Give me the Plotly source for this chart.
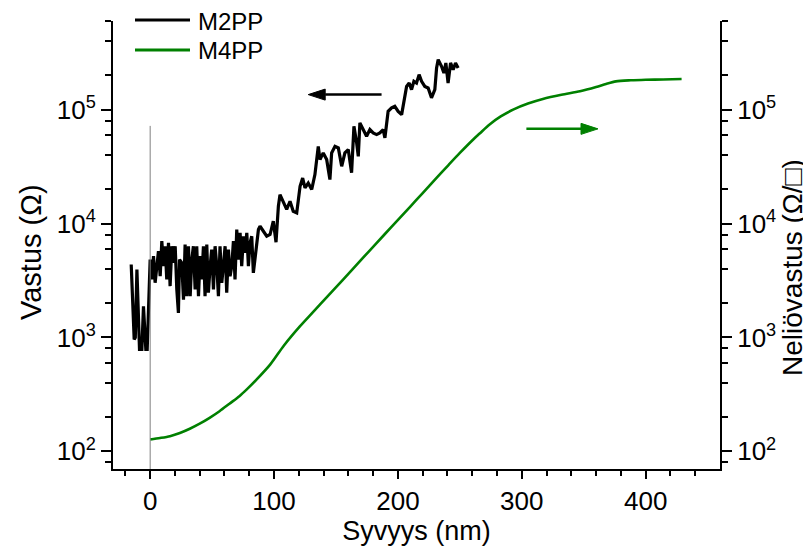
import math
import plotly.graph_objects as go

# ---------------- data ----------------
m2pp_depth = [-15.3, -14.3, -12.9, -12.0, -10.7, -8.6, -6.7, -5.4, -3.5, -2.4, -1.4, -0.6,
              0.0, 1.3, 2.7, 4.0, 5.4, 6.7, 8.1, 9.4, 10.8, 12.1, 13.4, 14.8, 16.1, 17.5,
              18.8, 20.2, 21.5, 22.8, 23.7, 25.5, 26.9, 28.2, 29.6, 30.9, 32.3, 33.6, 34.9,
              36.3, 37.6, 39.0, 40.3, 41.7, 43.0, 44.3, 45.7, 47.0, 48.4, 49.7, 51.1, 52.4,
              53.8, 55.1, 56.4, 57.8, 59.1, 60.5, 61.8, 63.2, 64.5, 65.9, 67.2, 68.5, 69.9,
              71.2, 72.6, 73.9, 75.3, 76.6, 78.0, 79.3, 80.6, 82.0, 83.3, 84.7, 86.0, 87.4,
              88.7, 91.4, 94.1, 96.8, 99.4, 101.6, 103.5, 104.8, 107.5, 110.2, 112.9, 115.5,
              118.3, 121.0, 123.1, 125.0, 127.6, 130.4, 133.0, 135.7, 137.1, 139.7, 142.5,
              145.1, 146.5, 149.2, 151.9, 154.6, 157.2, 159.9, 162.6, 164.5, 166.7, 168.0,
              169.3, 172.0, 174.7, 177.4, 180.0, 182.8, 185.4, 188.1, 189.5, 192.1, 194.9,
              197.5, 200.2, 203.0, 204.8, 207.0, 209.1, 211.0, 212.9, 215.0, 217.1, 219.1,
              221.7, 224.4, 227.1, 229.8, 231.2, 232.5, 235.2, 237.1, 238.7, 240.5, 242.5,
              244.6, 246.5, 248.6]
m2pp_resistance = [4370, 2080, 960, 1000, 3950, 785, 785, 1880, 785, 785, 1880, 2800,
                   4830, 3230, 5170, 3020, 4520, 5720, 3450, 7000, 4230, 6320, 3230, 6760,
                   2820, 6320, 4520, 6320, 2640, 1640, 4830, 4520, 2150, 6540, 2300, 6320,
                   2300, 4830, 6320, 2640, 6320, 2300, 5170, 3230, 6320, 2300, 6540, 2470,
                   4230, 5910, 2640, 6320, 4230, 2300, 6320, 3020, 4230, 6320, 2470, 5910,
                   3450, 4230, 7000, 3230, 8860, 4830, 8280, 4230, 7740, 5530, 8280, 4230,
                   6760, 7740, 3690, 5170, 6320, 8860,
                   9470, 8560, 7740, 8010, 10500, 6850, 14200, 17950, 15700, 13300, 15700,
                   12800, 12400, 21200, 25100, 20600, 22700, 19900, 26900, 47600, 36400,
                   41700, 36400, 24300, 41700, 47600, 46100, 31800, 41700, 44600, 27900,
                   71400, 51000, 38900, 76400, 66800, 58300, 66800, 62500, 60400, 62500,
                   66800, 56500, 96600, 103500, 107000, 96600, 90400, 114500, 160000,
                   171000, 150000, 177000, 171000, 203000, 177000, 160000, 155000, 127000,
                   150000, 232000, 275000, 240000, 210000, 257000, 171000, 257000, 224000,
                   257000, 232000]

m4pp_depth = [0, 8, 16, 24, 32, 40, 48, 56, 64, 72, 78, 86, 97, 108, 121, 132, 143, 155,
              171, 182, 195, 210, 220, 231, 241, 250, 261, 266, 274, 283, 293, 305, 317,
              332, 347, 360, 368, 376, 388, 400, 414, 429]
m4pp_sheet = [127, 131, 136, 145, 158, 175, 197, 225, 262, 305, 350, 428, 580, 850, 1256,
              1694, 2285, 3160, 4900, 6600, 9400, 14100, 18500, 25000, 32800, 41700, 55000,
              61700, 74100, 87100, 100000, 113000, 124000, 135000, 145000, 158000, 168000,
              177000, 181000, 183000, 184000, 186000]

series_names = ["M2PP", "M4PP"]
series_colors = ["black", "#008000"]
axis_titles = ["Syvyys (nm)", "Vastus (Ω)", "Neliövastus (Ω/□)"]

x_major = [0, 100, 200, 300, 400]
x_minor = [-20, 20, 40, 60, 80, 120, 140, 160, 180, 220, 240, 260, 280, 320, 340, 360, 380, 420, 440]
y_major = [1e2, 1e3, 1e4, 1e5]
y_major_text = ["10<sup>2</sup>", "10<sup>3</sup>", "10<sup>4</sup>", "10<sup>5</sup>"]
y_minor = [80, 200, 400, 600, 800, 2000, 4000, 6000, 8000, 20000, 40000, 60000, 80000,
           200000, 400000, 600000]

X_RANGE = [-30, 460]
Y_RANGE = [70, 6e5]

# ---------------- figure geometry ----------------
W, H = 803, 544
ML, MT, PW, PH = 105, 13, 607, 448
MR, MB = W - ML - PW, H - MT - PH

FONT = "Liberation Sans, Arial, sans-serif"
fig = go.Figure()
fig.add_trace(go.Scatter(x=m2pp_depth, y=m2pp_resistance, mode="lines", name=series_names[0],
                         line=dict(color=series_colors[0], width=3.2), yaxis="y",
                         showlegend=False))
fig.add_trace(go.Scatter(x=m4pp_depth, y=m4pp_sheet, mode="lines", name=series_names[1],
                         line=dict(color=series_colors[1], width=2.6, shape="spline",
                                   smoothing=0.8),
                         yaxis="y2", showlegend=False))

ylog = [math.log10(Y_RANGE[0]), math.log10(Y_RANGE[1])]


def py(v):
    return (math.log10(v) - ylog[0]) / (ylog[1] - ylog[0])


def paper_x(fx):
    return (fx - ML) / PW


def paper_y(fy):
    return (MT + PH - fy) / PH


axis_common = dict(showline=True, linecolor="black", linewidth=2, ticks="outside",
                   tickcolor="black", tickwidth=2, showgrid=False, zeroline=False,
                   tickfont=dict(family=FONT, size=26, color="black"))

fig.update_layout(
    width=W, height=H,
    margin=dict(l=ML, r=MR, t=MT, b=MB, autoexpand=False),
    plot_bgcolor="white", paper_bgcolor="white",
    font=dict(family=FONT, size=24, color="black"),
    showlegend=False,
    xaxis=dict(range=X_RANGE, tickmode="array", tickvals=x_major, ticklen=8,
               minor=dict(tickmode="array", tickvals=x_minor, ticks="outside", ticklen=5,
                          tickwidth=2, tickcolor="black"),
               title=dict(text=axis_titles[0], font=dict(size=27), standoff=6),
               **axis_common),
    yaxis=dict(type="log", range=ylog, tickmode="array", tickvals=y_major,
               ticktext=y_major_text, ticklen=10,
               minor=dict(tickmode="array", tickvals=y_minor, ticks="outside", ticklen=6,
                          tickwidth=2, tickcolor="black"),
               **axis_common),
    yaxis2=dict(type="log", range=ylog, overlaying="y", side="right", tickmode="array",
                tickvals=y_major, ticktext=y_major_text, ticklen=10,
                minor=dict(tickmode="array", tickvals=y_minor, ticks="outside", ticklen=6,
                           tickwidth=2, tickcolor="black"),
                **axis_common),
)

# vertical axis titles (placed as in the original export)
fig.add_annotation(xref="paper", yref="paper", x=paper_x(23), y=paper_y(244),
                   xanchor="center", yanchor="middle", textangle=-90, showarrow=False,
                   text=axis_titles[1], font=dict(family=FONT, size=29, color="black"))
fig.add_annotation(xref="paper", yref="paper", x=paper_x(784), y=paper_y(260),
                   xanchor="center", yanchor="middle", textangle=-90, showarrow=False,
                   text=axis_titles[2], font=dict(family=FONT, size=28, color="black"))

# legend (drawn in figure pixel positions, top-left above the frame)
legend_rows_fy = [12, 42]
for name, color, fy in zip(series_names, series_colors, legend_rows_fy):
    fig.add_shape(type="line", xref="paper", yref="paper",
                  x0=paper_x(127), x1=paper_x(182), y0=paper_y(fy), y1=paper_y(fy),
                  line=dict(color=color, width=3))
    fig.add_annotation(xref="paper", yref="paper", x=paper_x(188), y=paper_y(fy + 1),
                       xanchor="left", yanchor="middle", text=name, showarrow=False,
                       font=dict(family=FONT, size=24, color="black"))

# thin vertical marker at depth 0
fig.add_shape(type="line", xref="x", yref="paper", x0=0, x1=0, y0=0, y1=py(72000),
              line=dict(color="#808080", width=1))

# direction arrows (line + filled triangular head)
HEAD_LEN = 13.7   # nm
HEAD_HALF = 0.0123  # paper


def arrow(x_tail, x_tip, yval, color):
    yp = py(yval)
    sgn = 1 if x_tip > x_tail else -1
    base = x_tip - sgn * HEAD_LEN
    fig.add_shape(type="line", xref="x", yref="paper", x0=x_tail, x1=base, y0=yp, y1=yp,
                  line=dict(color=color, width=2.5))
    fig.add_shape(type="path", xref="x", yref="paper",
                  path=f"M {base},{yp - HEAD_HALF} L {x_tip},{yp} L {base},{yp + HEAD_HALF} Z",
                  fillcolor=color, line=dict(color=color, width=1))


arrow(186.8, 127.6, 135500, "black")
arrow(303.7, 361.5, 67800, "#008000")

fig.write_html("out.html")
